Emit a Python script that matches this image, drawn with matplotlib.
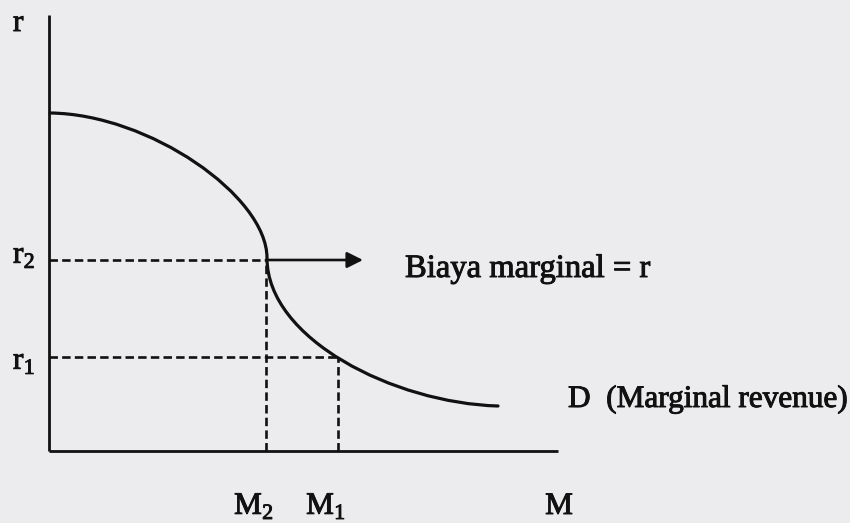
import matplotlib
matplotlib.use("Agg")
import matplotlib.pyplot as plt
import matplotlib.patheffects as pe
from matplotlib.path import Path
from matplotlib.patches import PathPatch

plt.rcParams['font.family'] = ['Liberation Serif', 'DejaVu Serif']
plt.rcParams['mathtext.fontset'] = 'custom'
plt.rcParams['mathtext.rm'] = 'Liberation Serif'

# demand curve D as two cubic pieces (M, r)
upper_m = [0.01, 1.00, 2.18, 2.18]
upper_r = [3.38, 3.37, 2.55, 1.93]
lower_m = [2.18, 2.18, 3.45, 4.49]
lower_r = [1.93, 1.12, 0.48, 0.45]

r_levels = [1.91, 0.94]          # r2, r1
m_levels = [2.17, 2.89]          # M2, M1
r_names = ['r$_2$', 'r$_1$']
m_names = ['M$_2$', 'M$_1$']
axis_end = [5.09, 4.36]          # M, r
arrow_end = 3.14

bg = '#ececee'
ink = '#111111'
fs = 22.5
thick = [pe.withStroke(linewidth=0.7, foreground=ink)]

fig = plt.figure(figsize=(8.5, 5.23), dpi=100, facecolor=bg)
ax = fig.add_axes([0, 0, 1, 1])
ax.set_facecolor(bg)
ax.set_xlim(-0.49, 8.01)
ax.set_ylim(-0.72, 4.51)
ax.axis('off')

# axes
ax.plot([0, axis_end[0]], [0, 0], color=ink, lw=2.0, solid_capstyle='butt')
ax.plot([0, 0], [0, axis_end[1]], color=ink, lw=2.0, solid_capstyle='butt')

# dashed guides
for r, m in zip(r_levels, m_levels):
    ax.plot([0, m], [r, r], color=ink, lw=1.9, dashes=(3.2, 1.6))
    ax.plot([m, m], [0, r], color=ink, lw=1.9, dashes=(3.2, 1.6))

# curve
codes = [Path.MOVETO, Path.CURVE4, Path.CURVE4, Path.CURVE4,
         Path.CURVE4, Path.CURVE4, Path.CURVE4]
verts = list(zip(upper_m, upper_r)) + list(zip(lower_m[1:], lower_r[1:]))
ax.add_patch(PathPatch(Path(verts, codes), fill=False, edgecolor=ink,
                       lw=2.3, capstyle='round'))

# arrow
ax.annotate('', xy=(arrow_end, r_levels[0]), xytext=(m_levels[0], r_levels[0]),
            arrowprops=dict(arrowstyle='-|>', color=ink, lw=1.9,
                            mutation_scale=24, shrinkA=0, shrinkB=0))

# labels
def label(x, y, s, ha='left', size=fs):
    ax.text(x, y, s, fontsize=size, color=ink, ha=ha, va='baseline',
            path_effects=thick)

label(-0.36, 4.20, 'r')
for r, name, dy in zip(r_levels, r_names, [0.02, -0.07]):
    label(-0.36, r - 0.05 + dy, name)
for m, name in zip(m_levels, m_names):
    label(m - 0.12, -0.63, name, ha='center')
label(5.10, -0.63, 'M', ha='center')

label(3.56, 1.74, 'Biaya marginal = r', size=23.5)
label(5.19, 0.44, 'D  (Marginal revenue)')

fig.savefig('out.png', dpi=100, facecolor=bg)
